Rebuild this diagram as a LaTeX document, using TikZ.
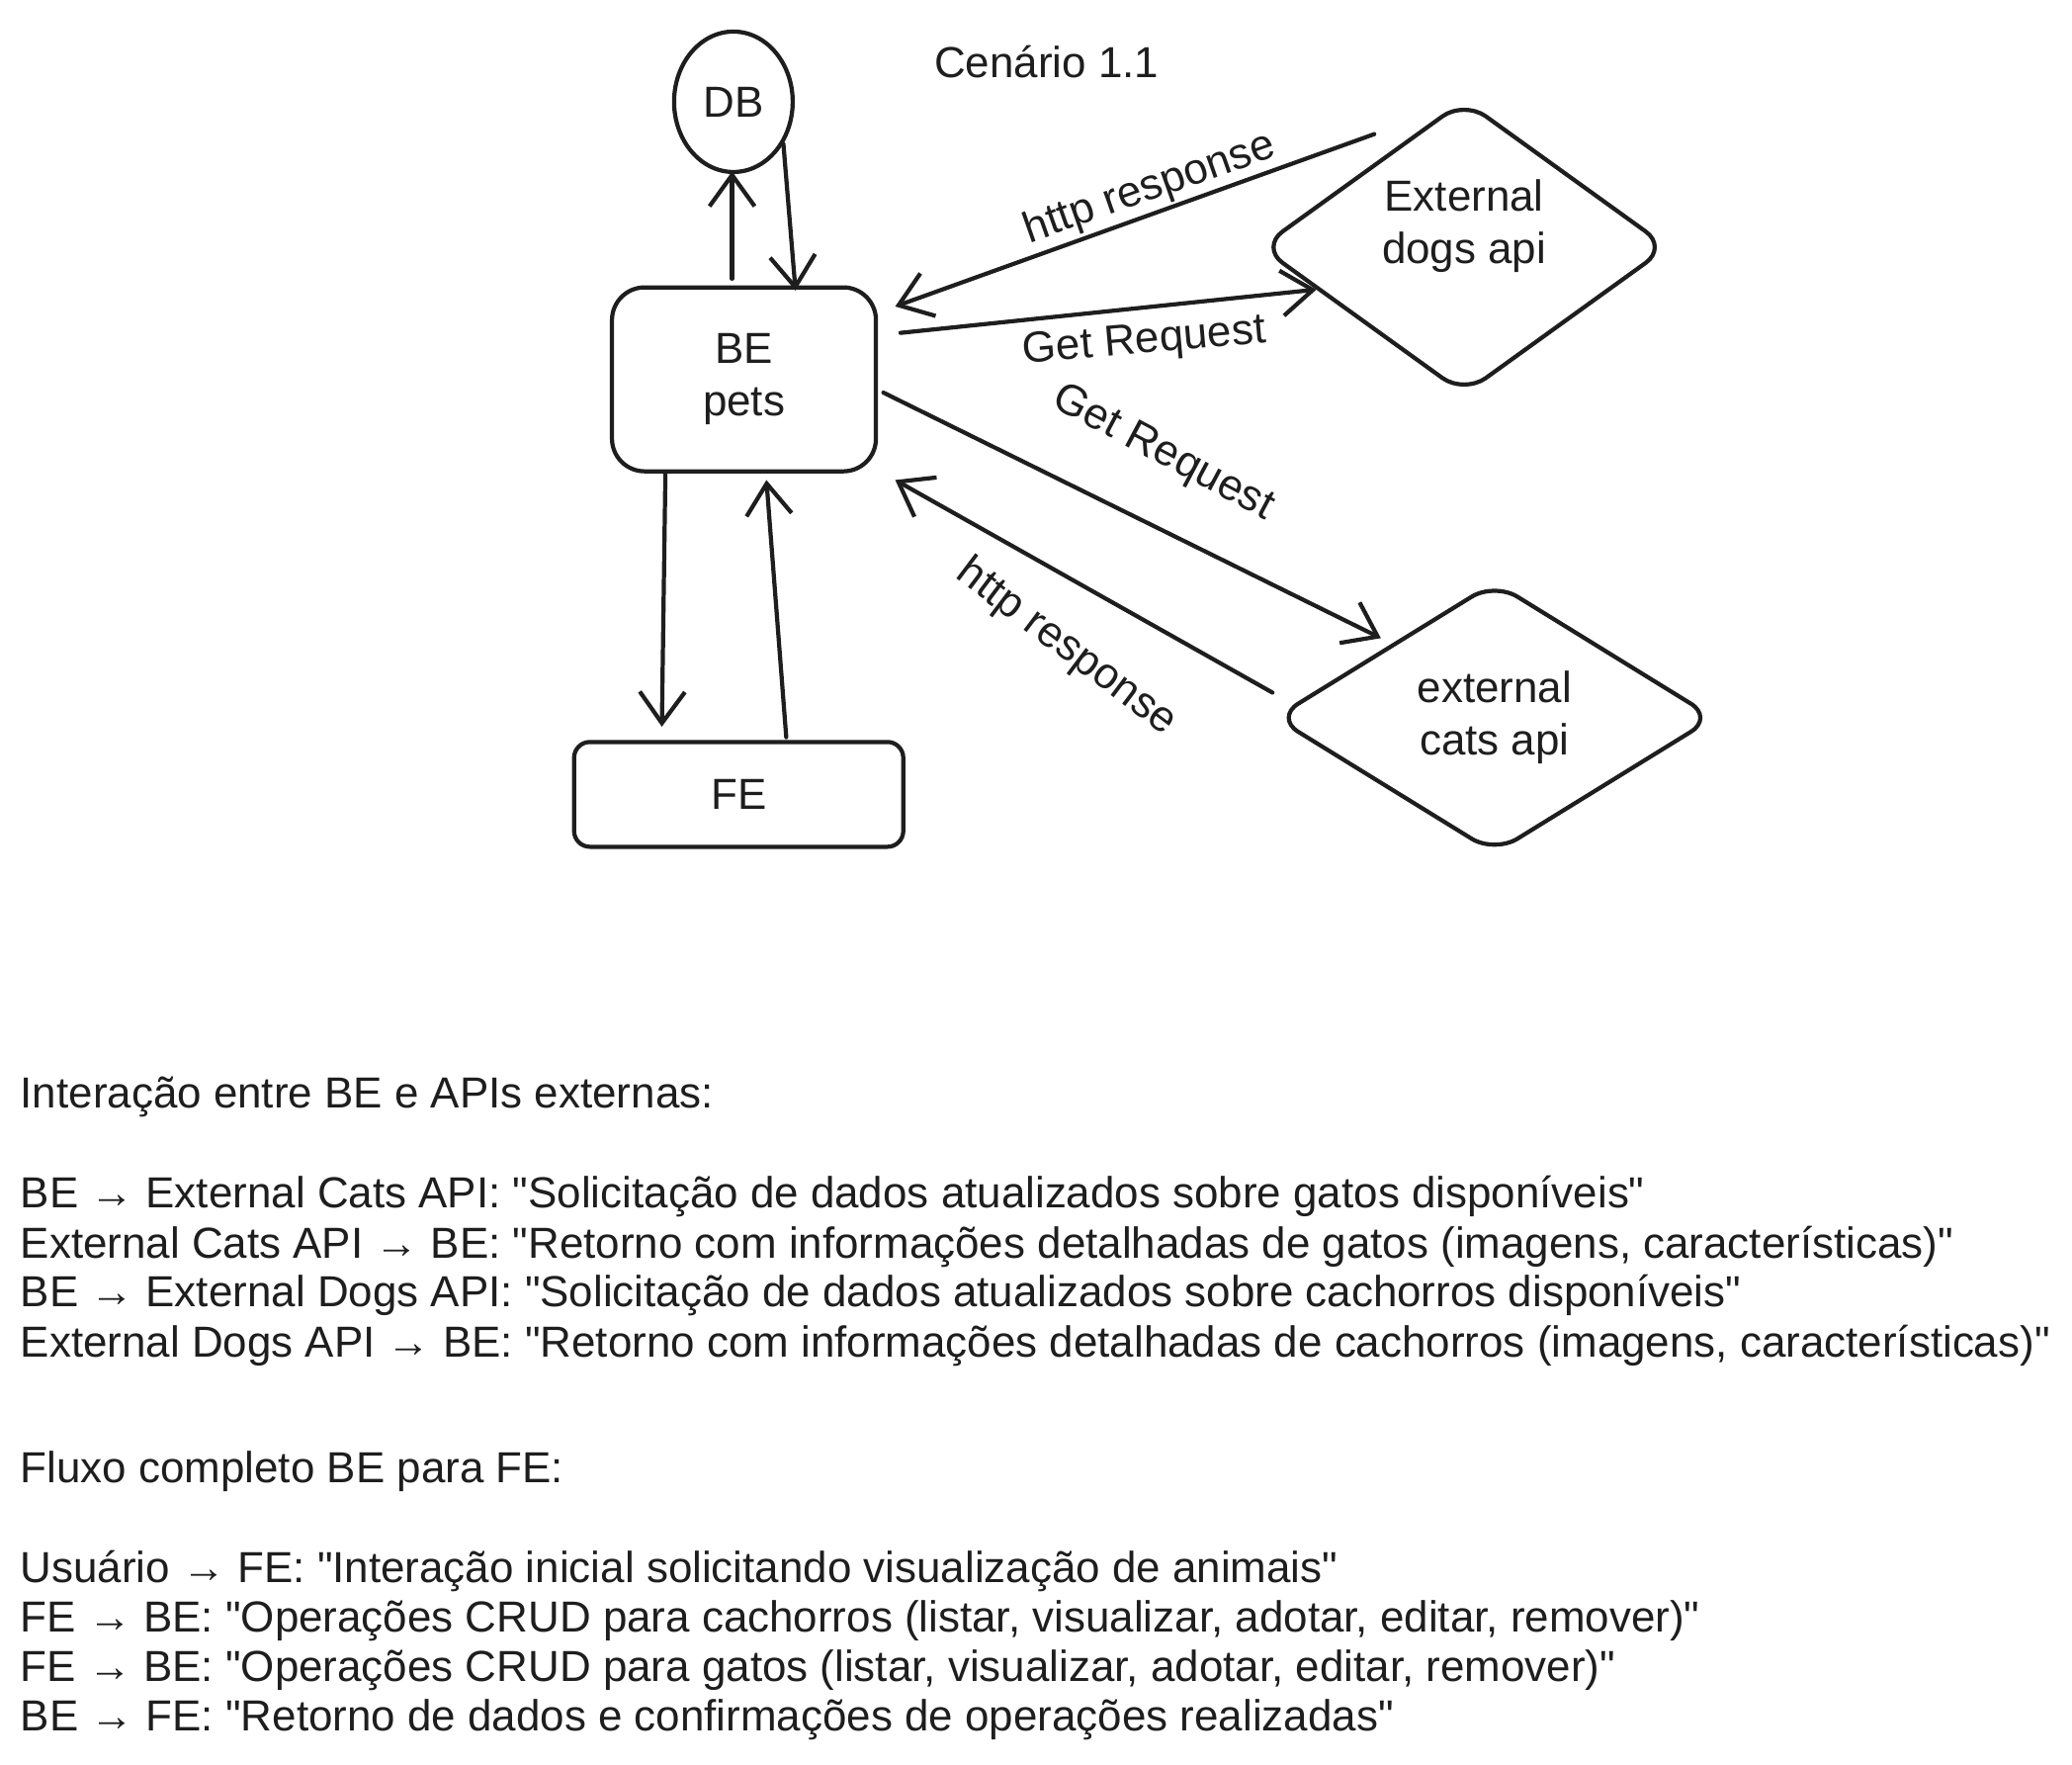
\documentclass[tikz,border=0pt]{standalone}
\usepackage{fontspec}
\setmainfont{Liberation Sans}
\usetikzlibrary{shapes.geometric,arrows.meta}
\definecolor{ink}{HTML}{1E1E1E}
\newcommand{\dq}{\textquotedbl}

\begin{document}
\begin{tikzpicture}[x=0.013367cm,y=-0.013367cm,
  every node/.style={text=ink, font=\fontsize{12.5}{15}\selectfont},
  line/.style={draw=ink, line width=1.2pt, line cap=round, line join=round},
  flow/.style={line, -{Straight Barb[length=9pt,width=13pt,line width=1.2pt]}},
  block/.style={line, rectangle, align=center, inner sep=0pt},
  api/.style={line, diamond, align=center, inner sep=0pt, rounded corners=0.27cm},
  note/.style={anchor=west, inner sep=0pt}
]
\useasboundingbox (0,0) rectangle (1568,1335);

% diagram
\node[anchor=center] (title) at (792,47) {Cenário 1.1};
\node[line, ellipse, inner sep=0pt, minimum width=1.20cm, minimum height=1.42cm] (DB) at (555,77) {DB};
\node[block, rounded corners=0.33cm, minimum width=2.67cm, minimum height=1.86cm] (BE) at (563,287) {BE\\pets};
\node[block, rounded corners=0.16cm, minimum width=3.33cm, minimum height=1.06cm] (FE) at (559,601) {FE};
\node[api, minimum width=4.13cm, minimum height=2.98cm,
  label={[align=center, yshift=0.21cm]center:External\\dogs api}] (dogs) at (1108,187) {};
\node[api, minimum width=4.45cm, minimum height=2.75cm] (cats) at (1131,543) {external\\cats api};

% BE <-> DB
\draw[flow] ([shift={(-9,-5)}]BE.north) -- ([shift={(-1,-2)}]DB.south);
\draw[flow] (DB.-40) -- ([shift={(39,4)}]BE.north);

% BE <-> dogs api
\draw[flow] ([shift={(10,-29)}]dogs.north west) -- ([shift={(13,16)}]BE.north east);
\draw[flow] ([shift={(17,36)}]BE.north east) -- (dogs.196);
\node (dogs-resp) at (870,143) [rotate=19.4] {http response};
\node (dogs-req) at (866,259) [rotate=5] {Get Request};

% BE <-> cats api
\draw[flow] ([shift={(4,10)}]BE.east) -- ([shift={(-2,-8)}]cats.north west);
\draw[flow] ([shift={(0,-19)}]cats.west) -- ([shift={(13,5)}]BE.south east);
\node (cats-req) at (880,343) [rotate=-28] {Get Request};
\node (cats-resp) at (807,490) [rotate=-37] {http response};

% BE <-> FE
\draw[flow] ([shift={(42,0)}]BE.south west) -- ([shift={(68,-10)}]FE.north west);
\draw[flow] ([shift={(36,-2)}]FE.north) -- ([shift={(17,5)}]BE.south);

% notes
\node[note] (api-title) at (15,830) {Interação entre BE e APIs externas:};
\node[note] (api-1) at (15,905) {BE → External Cats API: \dq Solicitação de dados atualizados sobre gatos disponíveis\dq};
\node[note] (api-2) at (15,943) {External Cats API → BE: \dq Retorno com informações detalhadas de gatos (imagens, características)\dq};
\node[note] (api-3) at (15,980) {BE → External Dogs API: \dq Solicitação de dados atualizados sobre cachorros disponíveis\dq};
\node[note] (api-4) at (15,1018) {External Dogs API → BE: \dq Retorno com informações detalhadas de cachorros (imagens, características)\dq};
\node[note] (flow-title) at (15,1113) {Fluxo completo BE para FE:};
\node[note] (flow-1) at (15,1189) {Usuário → FE: \dq Interação inicial solicitando visualização de animais\dq};
\node[note] (flow-2) at (15,1226) {FE → BE: \dq Operações CRUD para cachorros (listar, visualizar, adotar, editar, remover)\dq};
\node[note] (flow-3) at (15,1264) {FE → BE: \dq Operações CRUD para gatos (listar, visualizar, adotar, editar, remover)\dq};
\node[note] (flow-4) at (15,1301) {BE → FE: \dq Retorno de dados e confirmações de operações realizadas\dq};
\end{tikzpicture}
\end{document}
